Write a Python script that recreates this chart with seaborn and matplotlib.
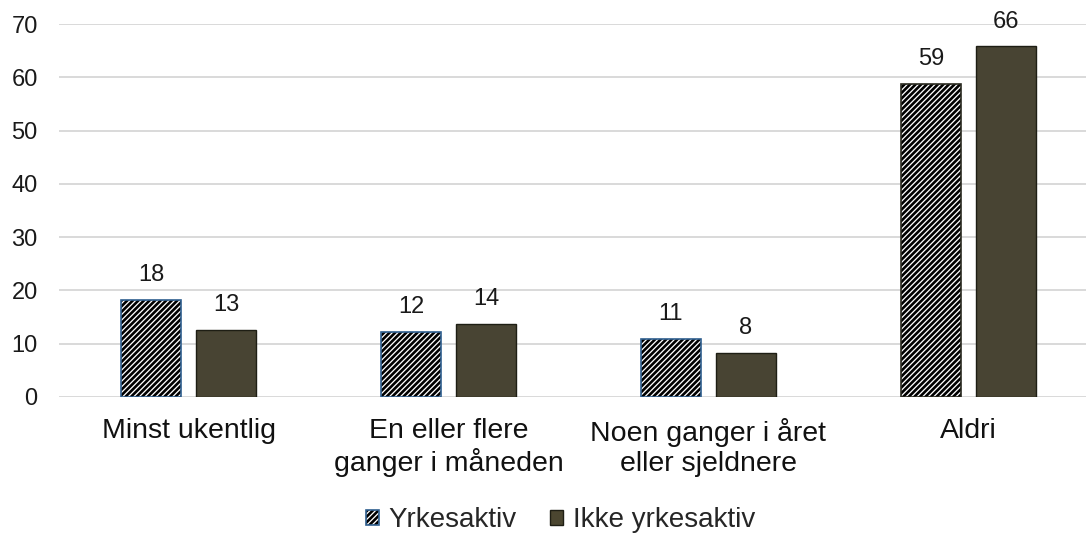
import seaborn as sns
import matplotlib.pyplot as plt
import pandas as pd
from matplotlib.patches import Patch, Rectangle
from matplotlib.legend_handler import HandlerBase

categories = ['Minst ukentlig', 'En eller flere\nganger i måneden',
              'Noen ganger i året\neller sjeldnere', 'Aldri']
series = ['Yrkesaktiv', 'Ikke yrkesaktiv']
yrkesaktiv = [18.2, 12.2, 10.9, 58.7]
ikke_yrkesaktiv = [12.6, 13.6, 8.2, 65.8]
yticks = [0, 10, 20, 30, 40, 50, 60, 70]

df = pd.DataFrame({
    'kategori': categories * 2,
    'gruppe': [series[0]] * 4 + [series[1]] * 4,
    'verdi': yrkesaktiv + ikke_yrkesaktiv,
})

sns.set_style('white')
plt.rcParams['font.family'] = ['Liberation Sans', 'DejaVu Sans']
plt.rcParams['hatch.linewidth'] = 1.9

fig = plt.figure(figsize=(10.86, 5.34), dpi=100)
# axes runs a bit past the right edge so the gridlines touch it
ax = fig.add_axes([58.5 / 1086, 0.257, 1040 / 1086, 0.698])

dark = '#4b4630'
blue = '#2f5f8f'
hatch = '//////'
sns.barplot(data=df, x='kategori', y='verdi', hue='gruppe',
            palette=['white', dark], width=0.577, gap=0.2,
            edgecolor='#1e1e14', linewidth=1.0, ax=ax, legend=False)

# hatched bars: black stripes, outline drawn on top
hatch_edges = [blue, blue, blue, '#2a2a20']
for i, bar in enumerate(ax.containers[0]):
    bar.set_hatch(hatch)
    bar.set_edgecolor('black')
    bar.set_linewidth(0)
    bar.set_facecolor('white')
    ax.add_patch(Rectangle(bar.get_xy(), bar.get_width(), bar.get_height(),
                           fill=False, edgecolor=hatch_edges[i], linewidth=1.2,
                           zorder=bar.get_zorder() + 0.1))

for cont in ax.containers:
    ax.bar_label(cont, labels=[f'{v.get_height():.0f}' for v in cont],
                 padding=10, fontsize=17, color='#1a1a1a')

ax.set_ylim(0, 70)
ax.set_yticks(yticks)
ax.yaxis.grid(True, color='#d9d9d9', linewidth=1.4)
ax.set_axisbelow(True)
for s in ax.spines.values():
    s.set_visible(False)
ax.tick_params(axis='y', length=0, labelsize=17, pad=15, colors='#1a1a1a')
ax.tick_params(axis='x', length=0, labelsize=20.5, pad=15, colors='#111111')
ax.set_xlabel('')
ax.set_ylabel('')
ax.set_xlim(-0.5, 3.5)


class HatchKey(HandlerBase):
    # hatched legend key with black stripes and a blue outline
    def create_artists(self, legend, orig, xd, yd, w, h, fontsize, trans):
        r1 = Rectangle((-xd, -yd), w, h, facecolor='white', edgecolor='black',
                       linewidth=0, hatch=hatch, transform=trans)
        r2 = Rectangle((-xd, -yd), w, h, fill=False, edgecolor=blue,
                       linewidth=1.2, transform=trans)
        return [r1, r2]


handles = [Patch(label=series[0]),
           Patch(facecolor=dark, edgecolor='#1e1e14', linewidth=1.0)]
fig.legend(handles=handles, labels=series, loc='lower center', ncol=2,
           frameon=False, fontsize=20, bbox_to_anchor=(0.516, -0.045),
           handlelength=0.47, handleheight=0.47, handletextpad=0.35,
           columnspacing=1.2, handler_map={handles[0]: HatchKey()})

fig.savefig('out.png', dpi=100)
